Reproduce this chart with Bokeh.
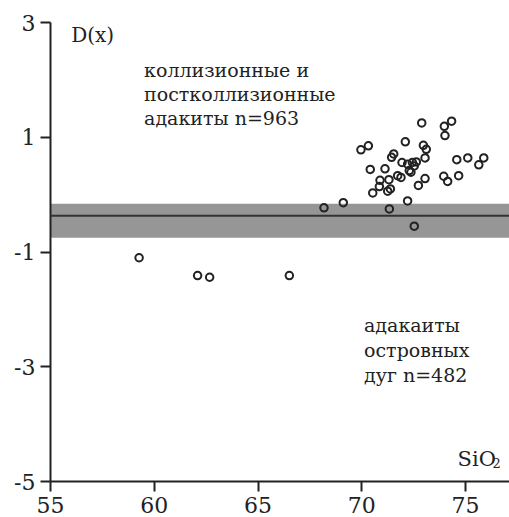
from bokeh.plotting import figure
from bokeh.models import Range1d, FixedTicker, BoxAnnotation, Span, Label, ColumnDataSource, PrintfTickFormatter
from bokeh.embed import file_html
from bokeh.resources import INLINE

# ---- data ----
sio2 = [72.89, 73.98, 74.33, 74.01, 69.96, 70.32, 72.10, 72.97, 73.11, 71.54,
        71.44, 71.94, 73.05, 72.21, 72.44, 72.63, 72.53, 72.29, 72.37, 70.41,
        71.12, 74.58, 75.11, 75.88, 75.64, 70.88, 71.31, 71.73, 71.89, 70.85,
        71.38, 71.25, 70.53, 73.05, 72.73, 73.95, 74.14, 74.67, 68.18, 69.11,
        72.21, 71.33, 72.53, 59.27, 62.09, 62.67, 66.51]
dx = [1.25, 1.19, 1.28, 1.03, 0.78, 0.85, 0.92, 0.86, 0.79, 0.71,
      0.65, 0.56, 0.64, 0.53, 0.56, 0.57, 0.50, 0.42, 0.39, 0.44,
      0.45, 0.61, 0.64, 0.64, 0.52, 0.25, 0.26, 0.33, 0.30, 0.14,
      0.10, 0.06, 0.03, 0.28, 0.16, 0.32, 0.23, 0.33, -0.23, -0.14,
      -0.11, -0.25, -0.55, -1.10, -1.41, -1.44, -1.41]

band_center = -0.37
band_low = -0.75
band_high = -0.16

x_ticks = [55, 60, 65, 70, 75]
y_ticks = [-5, -3, -1, 1, 3]

upper_text = ["коллизионные и", "постколлизионные", "адакиты n=963"]
lower_text = ["адакаиты", "островных", "дуг n=482"]

FONT = "DejaVu Serif"
INK = "#222222"

p = figure(width=509, height=517, output_backend="svg", toolbar_location=None,
           x_range=Range1d(55, 77.12), y_range=Range1d(-5, 3),
           min_border_left=50, min_border_right=0, min_border_top=22,
           min_border_bottom=36)
p.outline_line_color = None
p.grid.visible = False
p.background_fill_color = "white"

for ax in (p.xaxis[0], p.yaxis[0]):
    ax.axis_line_width = 2
    ax.axis_line_color = INK
    ax.major_tick_line_width = 2
    ax.major_tick_line_color = INK
    ax.major_tick_out = 10
    ax.major_tick_in = 0
    ax.minor_tick_line_color = None
    ax.major_label_text_font = FONT
    ax.major_label_text_font_size = "22px"
    ax.major_label_text_color = INK
    ax.formatter = PrintfTickFormatter(format="%d")

p.xaxis.ticker = FixedTicker(ticks=x_ticks)
p.yaxis.ticker = FixedTicker(ticks=y_ticks)
p.xaxis.major_label_standoff = 5
p.yaxis.major_label_standoff = 5

p.add_layout(BoxAnnotation(bottom=band_low, top=band_high, fill_color="#969696",
                           fill_alpha=1.0, line_color=None, level="underlay"))
p.add_layout(Span(location=band_center, dimension="width", line_color="#333333",
                  line_width=2))

src = ColumnDataSource(dict(x=sio2, y=dx))
p.scatter("x", "y", source=src, size=7.5, fill_color=None, line_color=INK,
          line_width=2)

def lab(x, y, t, size="19px"):
    p.add_layout(Label(x=x, y=y, text=t, text_font=FONT, text_font_size=size,
                       text_color=INK, text_baseline="alphabetic"))

lab(56.0, 2.79, "D(x)", "20px")
for i, t in enumerate(upper_text):
    lab(59.51, 2.17 - i * 0.42, t)
for i, t in enumerate(lower_text):
    lab(70.11, -2.28 - i * 0.435, t)
lab(74.62, -4.61, "SiO", "21px")
lab(76.30, -4.68, "2", "13px")

open("out.html", "w").write(file_html(p, INLINE))
